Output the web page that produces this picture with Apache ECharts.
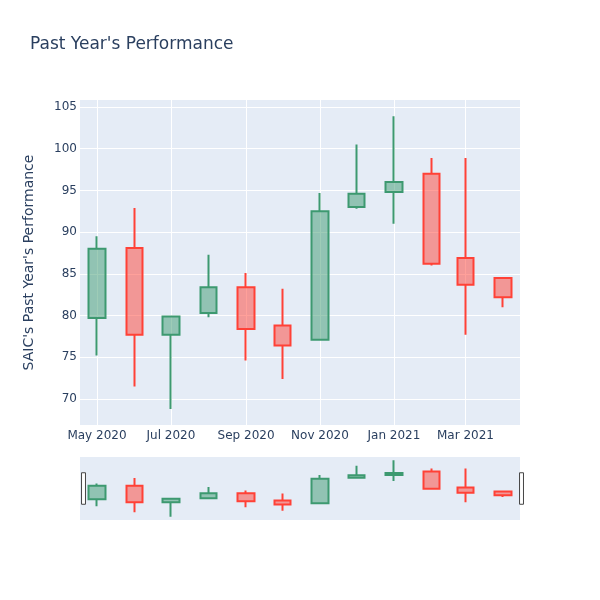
<!DOCTYPE html>
<html>
<head>
<meta charset="utf-8">
<script src="https://cdn.jsdelivr.net/npm/echarts@6/dist/echarts.min.js"></script>
<style>
  html, body { margin: 0; padding: 0; background: #fff; }
  #chart { width: 600px; height: 600px; }
</style>
</head>
<body>
<div id="chart"></div>
<script>
// monthly candles
const dates = ['2020-05-01', '2020-06-01', '2020-07-01', '2020-08-01', '2020-09-01', '2020-10-01',
    '2020-11-01', '2020-12-01', '2021-01-01', '2021-02-01', '2021-03-01', '2021-04-01'];
const openVals = [79.7, 88.1, 77.7, 80.3, 83.4, 78.8, 77.1, 93.0, 94.8, 97.0, 86.9, 84.5];
const closeVals = [88.0, 77.7, 79.9, 83.4, 78.4, 76.4, 92.5, 94.6, 96.0, 86.2, 83.7, 82.2];
const lowVals = [75.2, 71.5, 68.8, 79.8, 74.6, 72.4, 77.1, 92.8, 91.0, 86.0, 77.7, 81.0];
const highVals = [89.5, 92.9, 80.0, 87.3, 85.1, 83.2, 94.7, 100.5, 103.9, 98.9, 98.9, 84.5];

const tickDates = ['2020-05-01', '2020-07-01', '2020-09-01', '2020-11-01', '2021-01-01', '2021-03-01'];
const tickLabels = ['May 2020', 'Jul 2020', 'Sep 2020', 'Nov 2020', 'Jan 2021', 'Mar 2021'];

const textColor = '#2a3f5f';
const font = 'DejaVu Sans';

const toTime = d => echarts.time.parse(d).getTime();
const xMin = toTime('2020-04-17');
const xMax = toTime('2021-04-15');
const candleData = dates.map((d, i) => [toTime(d), openVals[i], closeVals[i], lowVals[i], highVals[i]]);
const tickTimes = tickDates.map(toTime);

const candleStyle = {
    color: 'rgba(61,153,112,0.5)',
    color0: 'rgba(255,65,54,0.5)',
    borderColor: '#3D9970',
    borderColor0: '#FF4136',
    borderWidth: 2
};

const chart = echarts.init(document.getElementById('chart'));
const option = {
    animation: false,
    title: {
        text: "Past Year's Performance",
        left: 30,
        top: 36,
        padding: 0,
        textStyle: { color: textColor, fontFamily: font, fontSize: 17, fontWeight: 'normal' }
    },
    grid: [
        { left: 80, right: 80, top: 100, bottom: 175, show: true, backgroundColor: '#E5ECF6', borderWidth: 0 },
        { left: 80, right: 80, top: 457, height: 63, show: true, backgroundColor: '#E5ECF6', borderWidth: 0 }
    ],
    xAxis: [{
        type: 'value',
        gridIndex: 0,
        min: xMin,
        max: xMax,
        axisLine: { show: false },
        axisTick: { show: false, customValues: tickTimes },
        axisLabel: {
            customValues: tickTimes,
            color: textColor,
            fontFamily: font,
            fontSize: 12,
            margin: 5,
            formatter: v => {
                const i = tickTimes.indexOf(v);
                return i >= 0 ? tickLabels[i] : '';
            }
        },
        splitLine: { show: true, lineStyle: { color: '#fff', width: 1 } }
    }, {
        type: 'value',
        gridIndex: 1,
        min: xMin,
        max: xMax,
        axisLine: { show: false },
        axisTick: { show: false },
        axisLabel: { show: false },
        splitLine: { show: false }
    }],
    yAxis: [{
        type: 'value',
        gridIndex: 0,
        min: 66.88,
        max: 105.84,
        splitNumber: 8,
        name: "SAIC's Past Year's Performance",
        nameLocation: 'middle',
        nameGap: 44,
        nameTextStyle: { color: textColor, fontFamily: font, fontSize: 14 },
        axisLine: { show: false },
        axisTick: { show: false },
        axisLabel: {
            color: textColor, fontFamily: font, fontSize: 12, margin: 3,
            showMinLabel: false, showMaxLabel: false
        },
        splitLine: { lineStyle: { color: '#fff', width: 1 }, showMinLine: false, showMaxLine: false }
    }, {
        type: 'value',
        gridIndex: 1,
        min: 66.7,
        max: 106,
        show: false,
        splitLine: { show: false }
    }],
    dataZoom: [{
        type: 'slider',
        xAxisIndex: [1],
        filterMode: 'none',
        start: 0,
        end: 100,
        left: 80,
        right: 80,
        top: 457,
        height: 63,
        backgroundColor: 'rgba(0,0,0,0)',
        borderColor: 'rgba(0,0,0,0)',
        fillerColor: 'rgba(0,0,0,0)',
        dataBackground: { lineStyle: { opacity: 0 }, areaStyle: { opacity: 0 } },
        selectedDataBackground: { lineStyle: { opacity: 0 }, areaStyle: { opacity: 0 } },
        handleIcon: 'path://M0,0h4v32h-4z',
        handleSize: '50%',
        handleStyle: { color: '#fff', borderColor: '#444', borderWidth: 1 },
        moveHandleSize: 0,
        showDetail: false,
        brushSelect: false
    }],
    series: [{
        type: 'candlestick',
        xAxisIndex: 0,
        yAxisIndex: 0,
        barWidth: 17,
        itemStyle: candleStyle,
        data: candleData
    }, {
        type: 'candlestick',
        xAxisIndex: 1,
        yAxisIndex: 1,
        barWidth: 17,
        itemStyle: candleStyle,
        data: candleData
    }]
};
chart.setOption(option);
</script>
</body>
</html>
